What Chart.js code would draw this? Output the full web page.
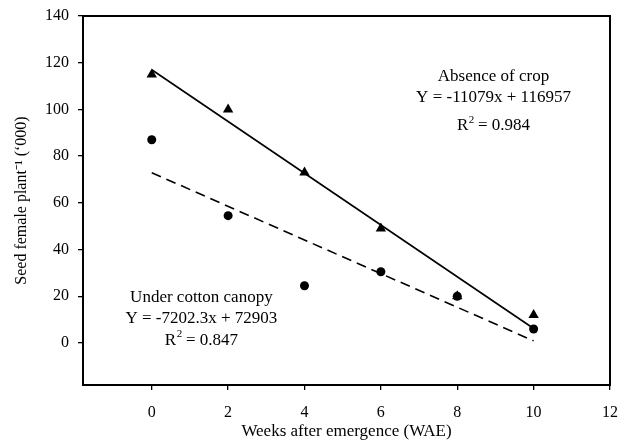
<!DOCTYPE html>
<html>
<head>
<meta charset="utf-8">
<script src="https://cdn.jsdelivr.net/npm/chart.js@4/dist/chart.umd.min.js"></script>
<style>
  html, body { margin: 0; padding: 0; background: #fff; }
  #wrap { width: 623px; height: 446px; }
</style>
</head>
<body>
<div id="wrap"><canvas id="chart" width="623" height="446"></canvas></div>
<script>
var weeks = [0, 2, 4, 6, 8, 10];
var absenceOfCrop = [115, 100, 73, 49, 20, 12];
var underCanopy = [87, 54.5, 24.5, 30.5, 20, 6];
var fitWeeks = [0, 10];
var absenceFit = [117, 6.2];
var canopyFit = [72.9, 0.9];
var xTicks = [0, 2, 4, 6, 8, 10, 12];
var yTicks = [0, 20, 40, 60, 80, 100, 120, 140];

// text boxes beside the fitted lines (anchor in data units, line gaps in px)
var notes = [
    { x: 8.95, y: 114, title: 'Absence of crop', eq: 'Y = -11079x + 116957', r2: '0.984', gaps: [21, 49] },
    { x: 1.3, y: 19.6, title: 'Under cotton canopy', eq: 'Y = -7202.3x + 72903', r2: '0.847', gaps: [21, 43] }
];

function toPoints(xs, ys) {
    var pts = [];
    for (var i = 0; i < xs.length; i++) {
        pts.push({ x: xs[i], y: ys[i] });
    }
    return pts;
}

var serif = '"Liberation Serif", "Times New Roman", serif';

var framePlugin = {
    id: 'frame',
    afterDraw: function(chart) {
        var ctx = chart.ctx;
        var a = chart.chartArea;
        ctx.save();
        ctx.strokeStyle = '#000';
        ctx.lineWidth = 2;
        ctx.strokeRect(a.left, a.top, a.right - a.left, a.bottom - a.top);

        ctx.fillStyle = '#000';
        ctx.textBaseline = 'middle';
        var xs = chart.scales.x, ys = chart.scales.y;
        notes.forEach(function(n) {
            var cx = xs.getPixelForValue(n.x);
            var cy = ys.getPixelForValue(n.y);
            ctx.textAlign = 'center';
            ctx.font = '17px ' + serif;
            ctx.fillText(n.title, cx, cy);
            ctx.fillText(n.eq, cx, cy + n.gaps[0]);
            // R² with a small raised 2
            var rest = ' = ' + n.r2;
            var wR = ctx.measureText('R').width;
            var wRest = ctx.measureText(rest).width;
            ctx.font = '11px ' + serif;
            var wS = ctx.measureText('2').width;
            var sx = cx - (wR + wS + wRest) / 2;
            var ly = cy + n.gaps[1];
            ctx.textAlign = 'left';
            ctx.font = '17px ' + serif;
            ctx.fillText('R', sx, ly);
            ctx.fillText(rest, sx + wR + wS, ly);
            ctx.font = '11px ' + serif;
            ctx.fillText('2', sx + wR + 0.5, ly - 6);
        });
        ctx.restore();
    }
};

var ctx = document.getElementById('chart').getContext('2d');
var chart = new Chart(ctx, {
    type: 'scatter',
    data: {
        datasets: [
            {
                label: 'Absence of crop',
                data: toPoints(weeks, absenceOfCrop),
                pointStyle: 'triangle',
                pointRadius: 6,
                backgroundColor: '#000',
                borderColor: '#000',
                borderWidth: 0
            },
            {
                label: 'Under cotton canopy',
                data: toPoints(weeks, underCanopy),
                pointStyle: 'circle',
                pointRadius: 4.5,
                backgroundColor: '#000',
                borderColor: '#000',
                borderWidth: 0
            },
            {
                type: 'line',
                label: 'Absence fit',
                data: toPoints(fitWeeks, absenceFit),
                borderColor: '#000',
                borderWidth: 1.6,
                pointRadius: 0,
                fill: false
            },
            {
                type: 'line',
                label: 'Canopy fit',
                data: toPoints(fitWeeks, canopyFit),
                borderColor: '#000',
                borderWidth: 1.6,
                borderDash: [10, 6],
                pointRadius: 0,
                fill: false
            }
        ]
    },
    options: {
        responsive: false,
        animation: false,
        layout: { padding: { top: 16, right: 13, left: 0, bottom: 0 } },
        plugins: {
            legend: { display: false },
            tooltip: { enabled: false }
        },
        scales: {
            x: {
                type: 'linear',
                min: -1.8,
                max: 12,
                afterBuildTicks: function(axis) {
                    axis.ticks = xTicks.map(function(v) { return { value: v }; });
                },
                afterFit: function(axis) {
                    axis.height = 61;
                    axis.paddingLeft = 0;
                    axis.paddingRight = 0;
                },
                border: { display: false },
                grid: {
                    drawOnChartArea: false,
                    drawTicks: true,
                    tickLength: 5,
                    color: '#000',
                    lineWidth: 1.3
                },
                ticks: {
                    color: '#000',
                    padding: 13,
                    maxRotation: 0,
                    font: { family: serif, size: 16 }
                },
                title: {
                    display: true,
                    text: 'Weeks after emergence (WAE)',
                    color: '#000',
                    padding: { top: 0, bottom: 4 },
                    font: { family: serif, size: 17 }
                }
            },
            y: {
                type: 'linear',
                min: -18,
                max: 140,
                afterBuildTicks: function(axis) {
                    axis.ticks = yTicks.map(function(v) { return { value: v }; });
                },
                afterFit: function(axis) {
                    axis.width = 83;
                    axis.paddingTop = 0;
                    axis.paddingBottom = 0;
                },
                border: { display: false },
                grid: {
                    drawOnChartArea: false,
                    drawTicks: true,
                    tickLength: 5,
                    color: '#000',
                    lineWidth: 1.3
                },
                ticks: {
                    color: '#000',
                    padding: 9,
                    font: { family: serif, size: 16 }
                },
                title: {
                    display: true,
                    text: 'Seed female plant\u207B\u00B9 (\u2018000)',
                    color: '#000',
                    padding: { top: 12, bottom: 2 },
                    font: { family: serif, size: 16 }
                }
            }
        }
    },
    plugins: [framePlugin]
});
</script>
</body>
</html>
